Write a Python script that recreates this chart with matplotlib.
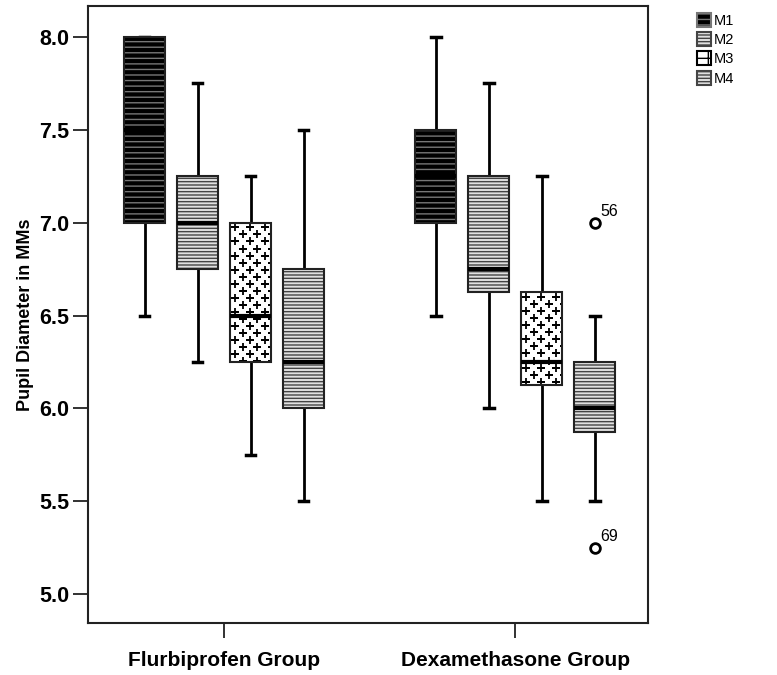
import numpy as np
import matplotlib
matplotlib.use("Agg")
import matplotlib.pyplot as plt
from matplotlib.patches import Patch, PathPatch

plt.rcParams['font.family'] = ['Liberation Sans', 'DejaVu Sans']
plt.rcParams['hatch.linewidth'] = 1.0

groups = ['Flurbiprofen Group', 'Dexamethasone Group']
series = ['M1', 'M2', 'M3', 'M4']

# five-number summaries
flurb_lo = [6.5, 6.25, 5.75, 5.5]
flurb_q1 = [7.0, 6.75, 6.25, 6.0]
flurb_med = [7.5, 7.0, 6.5, 6.25]
flurb_q3 = [8.0, 7.25, 7.0, 6.75]
flurb_hi = [8.0, 7.75, 7.25, 7.5]

dexa_lo = [6.5, 6.0, 5.5, 5.5]
dexa_q1 = [7.0, 6.625, 6.125, 5.875]
dexa_med = [7.25, 6.75, 6.25, 6.0]
dexa_q3 = [7.5, 7.25, 6.625, 6.25]
dexa_hi = [8.0, 7.75, 7.25, 6.5]

dexa_m4_outliers = [7.0, 5.25]
dexa_m4_outlier_ids = ['56', '69']

# style per series: facecolor, hatch colour, hatch
styles = {
    'M1': ('black', '#777777', '---'),
    'M2': ('#e0e0e0', '#444444', '-----'),
    'M3': ('white', 'white', ''),
    'M4': ('#e0e0e0', '#444444', '-----'),
}

fig = plt.figure(figsize=(7.77, 6.75), dpi=100)
ax = fig.add_axes([0.1133, 0.077, 0.721, 0.914])

offsets = np.array([-1.5, -0.5, 0.5, 1.5]) * 0.182
width = 0.141

stats = []
positions = []
names = []
for g, (lo, q1, med, q3, hi) in enumerate([
        (flurb_lo, flurb_q1, flurb_med, flurb_q3, flurb_hi),
        (dexa_lo, dexa_q1, dexa_med, dexa_q3, dexa_hi)]):
    for i, s in enumerate(series):
        fl = dexa_m4_outliers if (g == 1 and s == 'M4') else []
        stats.append(dict(whislo=lo[i], q1=q1[i], med=med[i], q3=q3[i],
                          whishi=hi[i], fliers=fl))
        positions.append(g + offsets[i])
        names.append(s)

bp = ax.bxp(stats, positions=positions, widths=width, patch_artist=True,
            showfliers=True, capwidths=0.034,
            medianprops=dict(color='black', lw=3, zorder=5),
            whiskerprops=dict(color='black', lw=2),
            capprops=dict(color='black', lw=2.5),
            flierprops=dict(marker='o', markerfacecolor='white',
                            markeredgecolor='black', markersize=7, mew=2))

for box, s in zip(bp['boxes'], names):
    fc, hc, h = styles[s]
    box.set_facecolor(fc)
    box.set_edgecolor(hc)
    box.set_hatch(h)
    box.set_linewidth(0)
    box.set_zorder(3)
    ax.add_patch(PathPatch(box.get_path(), facecolor='none',
                           edgecolor='#222222', lw=1.5, zorder=4))
    if s == 'M3':
        # staggered plus-sign pattern inside the box
        verts = box.get_path().vertices
        x0, x1 = verts[:, 0].min(), verts[:, 0].max()
        y0, y1 = verts[:, 1].min(), verts[:, 1].max()
        xs, ys = [], []
        for r, yy in enumerate(np.arange(y1 - 0.025, y0 - 0.04, -0.038)):
            start = x0 + (0.017 if r % 2 == 0 else 0.043)
            for xx in np.arange(start, x1 + 0.01, 0.0515):
                xs.append(xx)
                ys.append(yy)
        pts = ax.scatter(xs, ys, marker='+', s=28, c='black', lw=1.3,
                         zorder=3.5)
        pts.set_clip_path(box)

# outlier case numbers
for val, lab in zip(dexa_m4_outliers, dexa_m4_outlier_ids):
    ax.annotate(lab, (1 + offsets[3], val), xytext=(4, 5),
                textcoords='offset points', fontsize=11.5)

ax.set_xlim(-0.467, 1.457)
ax.set_ylim(4.844, 8.167)
ax.set_xticks([0, 1])
ax.set_xticklabels(groups, fontsize=15, fontweight='bold')
ax.set_yticks([5.0, 5.5, 6.0, 6.5, 7.0, 7.5, 8.0])
ax.set_yticklabels(['5.0', '5.5', '6.0', '6.5', '7.0', '7.5', '8.0'],
                   fontsize=15.5, fontweight='bold')
ax.tick_params(axis='y', length=10.5, width=1.3, color='#222222', pad=3)
ax.tick_params(axis='x', length=11, width=1.3, color='#222222', pad=9)
ax.set_ylabel('Pupil Diameter in MMs', fontsize=13, fontweight='bold',
              labelpad=4)
for sp in ax.spines.values():
    sp.set_color('#222222')
    sp.set_linewidth(1.5)

handles = []
for s in series:
    fc, hc, h = styles[s]
    if s == 'M3':
        handles.append(Patch(facecolor='white', edgecolor='black', hatch='+',
                             label=s))
    else:
        handles.append(Patch(facecolor=fc, edgecolor=hc, hatch=h, label=s))
leg = fig.legend(handles=handles, loc='upper left',
                 bbox_to_anchor=(0.889, 0.99), frameon=False, fontsize=10.5,
                 handlelength=1.0, handleheight=1.1, handletextpad=0.2,
                 labelspacing=0.3, borderaxespad=0)
for p in leg.get_patches():
    p.set_linewidth(1.5)

fig.savefig('out.png', dpi=100)
